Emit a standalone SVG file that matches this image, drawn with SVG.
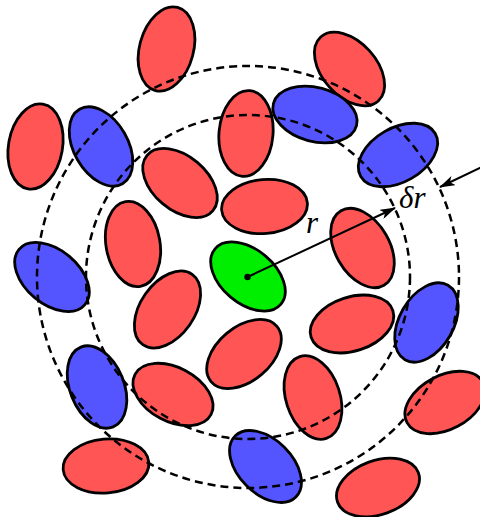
<svg xmlns="http://www.w3.org/2000/svg" width="480" height="517" viewBox="0 0 480 517">
<style>
.e{stroke:#000;stroke-width:2.8}
.r{fill:#ff5555}
.b{fill:#5555ff}
.g{fill:#00ee00}
.c{fill:none;stroke:#000;stroke-width:2.5;stroke-dasharray:8 5}
.a{stroke:#000;stroke-width:2;fill:none}
.t{font-family:"Liberation Serif",serif;font-style:italic;fill:#000}
</style>
<defs>
<marker id="ah" viewBox="0 0 16 10" refX="15" refY="5" markerWidth="16" markerHeight="10" markerUnits="userSpaceOnUse" orient="auto">
<path d="M0,0 L16,5 L0,10 L4,5 Z" fill="#000"/>
</marker>
</defs>
<rect width="480" height="517" fill="#fff"/>
<g id="particles">
<g id="p1"><ellipse class="e r" cx="0" cy="0" rx="27" ry="43" transform="translate(166.5,49) rotate(15)"/></g>
<g id="p2"><ellipse class="e r" cx="0" cy="0" rx="27" ry="43" transform="translate(349.5,69) rotate(-42)"/></g>
<g id="p3"><ellipse class="e r" cx="0" cy="0" rx="27" ry="43" transform="translate(35.5,146.5) rotate(10)"/></g>
<g id="p4"><ellipse class="e b" cx="0" cy="0" rx="27" ry="43" transform="translate(101,146.5) rotate(-30)"/></g>
<g id="p5"><ellipse class="e r" cx="0" cy="0" rx="27" ry="43" transform="translate(246,133.5) rotate(5)"/></g>
<g id="p6"><ellipse class="e b" cx="0" cy="0" rx="27" ry="43" transform="translate(315,114.5) rotate(-75)"/></g>
<g id="p7"><ellipse class="e b" cx="0" cy="0" rx="27" ry="43" transform="translate(398,155) rotate(60)"/></g>
<g id="p8"><ellipse class="e r" cx="0" cy="0" rx="27" ry="43" transform="translate(180,183) rotate(-50)"/></g>
<g id="p9"><ellipse class="e r" cx="0" cy="0" rx="27" ry="43" transform="translate(264.5,206.5) rotate(85)"/></g>
<g id="p10"><ellipse class="e r" cx="0" cy="0" rx="27" ry="43" transform="translate(133,244) rotate(-10)"/></g>
<g id="p11"><ellipse class="e r" cx="0" cy="0" rx="27" ry="43" transform="translate(362.5,248) rotate(-30)"/></g>
<g id="p12"><ellipse class="e b" cx="0" cy="0" rx="27" ry="43" transform="translate(52,277) rotate(-50)"/></g>
<g id="p13"><ellipse class="e g" cx="0" cy="0" rx="27" ry="43" transform="translate(248,276.5) rotate(-50)"/></g>
<g id="p14"><ellipse class="e r" cx="0" cy="0" rx="27" ry="43" transform="translate(167.5,309.5) rotate(35)"/></g>
<g id="p15"><ellipse class="e r" cx="0" cy="0" rx="27" ry="43" transform="translate(352,324) rotate(72)"/></g>
<g id="p16"><ellipse class="e b" cx="0" cy="0" rx="27" ry="43" transform="translate(426.5,322.5) rotate(30)"/></g>
<g id="p17"><ellipse class="e r" cx="0" cy="0" rx="27" ry="43" transform="translate(244,354) rotate(50)"/></g>
<g id="p18"><ellipse class="e b" cx="0" cy="0" rx="27" ry="43" transform="translate(97,387) rotate(-22)"/></g>
<g id="p19"><ellipse class="e r" cx="0" cy="0" rx="27" ry="43" transform="translate(173,394.5) rotate(-62)"/></g>
<g id="p20"><ellipse class="e r" cx="0" cy="0" rx="27" ry="43" transform="translate(313,397.5) rotate(-18)"/></g>
<g id="p21"><ellipse class="e r" cx="0" cy="0" rx="27" ry="43" transform="translate(445,402.5) rotate(62)"/></g>
<g id="p22"><ellipse class="e r" cx="0" cy="0" rx="27" ry="43" transform="translate(106,466) rotate(85)"/></g>
<g id="p23"><ellipse class="e b" cx="0" cy="0" rx="27" ry="43" transform="translate(265.5,466.5) rotate(-45)"/></g>
<g id="p24"><ellipse class="e r" cx="0" cy="0" rx="27" ry="43" transform="translate(378,487.5) rotate(70)"/></g>
</g>
<g id="shells">
<circle class="c" cx="248" cy="277" r="162"/>
<circle class="c" cx="248" cy="277" r="211"/>
</g>
<g id="connectors">
<line class="a" x1="247.5" y1="277" x2="395" y2="208" marker-end="url(#ah)"/>
<line class="a" x1="482" y1="167" x2="440" y2="187" marker-end="url(#ah)"/>
<circle cx="247.5" cy="277" r="3.2" fill="#000"/>
</g>
<g id="labels">
<text class="t" x="306" y="233" font-size="31">r</text>
<text class="t" x="399" y="207.5" font-size="31">δr</text>
</g>
</svg>
